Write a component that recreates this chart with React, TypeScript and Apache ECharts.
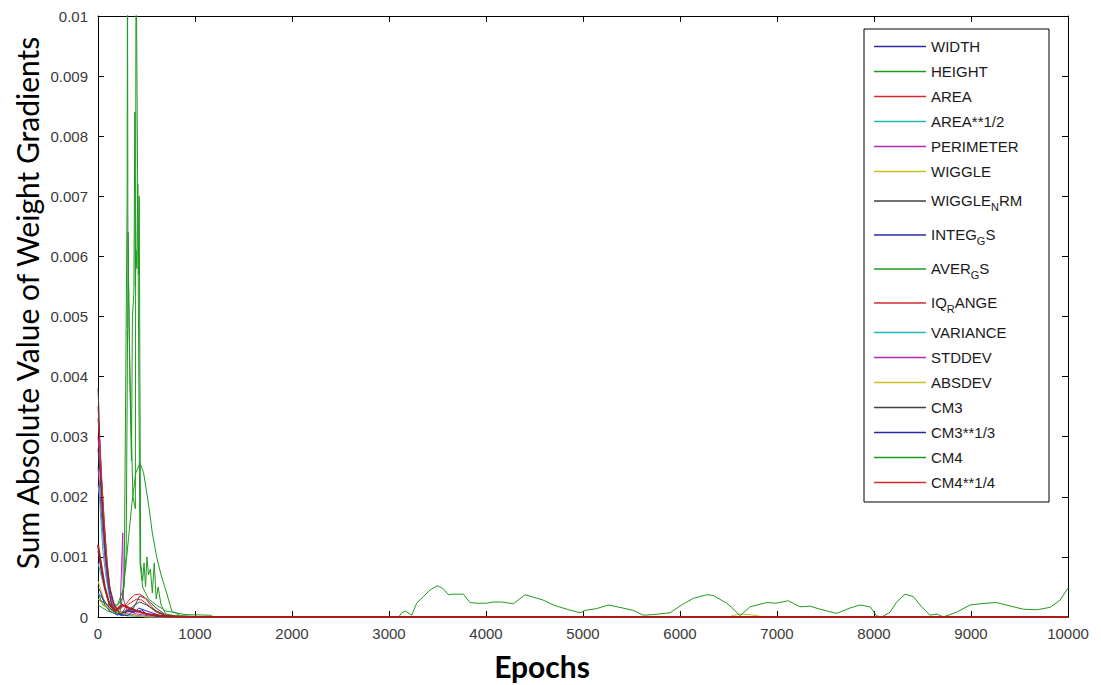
import React, { useEffect, useRef } from "react";
import * as echarts from "echarts";

// ---------- data: [epoch, sum |gradient|] ----------
const X_TICKS = { min: 0, max: 10000, step: 1000 };
const Y_TICKS = { min: 0, max: 0.01, step: 0.001 };

const WIDTH = [[0,0.0011],[20,0.0009],[50,0.0006],[100,0.0003],[150,0.00015],[200,0.00005],[250,0.00002],[300,0.0001],[350,0.00015],[400,0.00008],[450,0.00012],[500,0.00005],[600,0.00002],[800,0],[10000,0]];
const HEIGHT = [[0,0.0003],[100,0.0002],[200,0.0002],[270,0.0005],[300,0.0069],[304,0.0115],[308,0.0064],[330,0.004],[360,0.002],[385,0.0018],[392,0.0115],[433,0.0009],[460,0.0005],[520,0.0003],[600,0.0002],[700,0.0001],[900,0.00004],[1150,0.00003],[1200,0],[10000,0]];
const AREA = [[0,0.0035],[10,0.0032],[20,0.0028],[40,0.0022],[60,0.0017],[80,0.0012],[100,0.0008],[130,0.0004],[170,0.00015],[220,0.00005],[260,0.0001],[300,0.0002],[350,0.00025],[400,0.0003],[450,0.00028],[500,0.00022],[550,0.00015],[600,0.00008],[700,0.00002],[900,0],[10000,0]];
const AREA_SQRT = [[0,0.0022],[15,0.002],[30,0.0016],[50,0.0011],[80,0.0007],[110,0.0004],[150,0.00015],[200,0.00005],[300,0.00002],[500,0],[10000,0]];
const PERIMETER = [[0,0.003],[10,0.0028],[25,0.0024],[40,0.0019],[60,0.0014],[80,0.0009],[100,0.0006],[130,0.0003],[170,0.0001],[230,0.0002],[255,0.0014],[262,0.0003],[300,0.0001],[400,0.00005],[600,0],[10000,0]];
const WIGGLE = [[0,0.0006],[40,0.0004],[80,0.0002],[150,0.0001],[300,0.00005],[500,0],[10000,0]];
const WIGGLE_NRM = [[0,0.0038],[8,0.0035],[15,0.0031],[30,0.0025],[50,0.0018],[70,0.0012],[100,0.0006],[140,0.0002],[200,0.00005],[350,0.0001],[430,0.00035],[500,0.0003],[600,0.00015],[700,0.00003],[900,0],[10000,0]];
const INTEG_GS = [[0,0.0005],[30,0.0004],[70,0.0002],[120,0.0001],[200,0.00003],[300,0.00012],[380,0.00008],[420,0.00015],[500,0.0001],[650,0.00002],[800,0],[10000,0]];
const AVER_GS = [[0,0.0004],[50,0.0002],[150,0.0001],[250,0.0003],[290,0.001],[305,0.0048],[310,0.0064],[318,0.005],[330,0.0038],[345,0.0026],[355,0.005],[370,0.0054],[380,0.0084],[385,0.0055],[392,0.0061],[400,0.0058],[410,0.0072],[418,0.0057],[425,0.007],[432,0.004],[440,0.0009],[460,0.0006],[475,0.0009],[490,0.0005],[505,0.001],[520,0.0007],[540,0.0008],[560,0.0004],[580,0.0009],[600,0.0003],[620,0.0005],[650,0.0002],[700,0.00005],[800,0.00002],[1200,0],[10000,0]];
const IQ_RANGE = [[0,0.0033],[15,0.003],[35,0.0024],[60,0.0017],[90,0.001],[120,0.0005],[160,0.0002],[200,0.0001],[280,0.0002],[330,0.0003],[380,0.00037],[430,0.00038],[480,0.00033],[540,0.0002],[600,0.0001],[700,0.00003],[900,0],[10000,0]];
const VARIANCE = [[0,0.0009],[30,0.0007],[80,0.0004],[140,0.00015],[200,0.00005],[400,0.00002],[600,0],[10000,0]];
const STDDEV = [[0,0.0025],[15,0.0022],[40,0.0016],[70,0.001],[100,0.0006],[140,0.0003],[200,0.0001],[300,0.00005],[500,0],[10000,0]];
const ABSDEV = [[0,0.0003],[60,0.0002],[150,0.0001],[300,0.00004],[500,0],[6500,0],[6560,0.00003],[6620,0.00005],[6720,0.00004],[6800,0.00002],[6860,0],[10000,0]];
const CM3 = [[0,0.0028],[20,0.0024],[50,0.0016],[80,0.001],[120,0.0005],[170,0.0002],[230,0.00005],[300,0.0001],[380,0.0002],[430,0.00025],[500,0.0002],[600,0.0001],[700,0.00002],[900,0],[10000,0]];
const CM3_CBRT = [[0,0.0004],[50,0.0003],[120,0.00015],[200,0.00005],[300,0.00002],[350,0.00008],[420,0.0001],[480,0.00006],[600,0.00001],[800,0],[10000,0]];
const CM4 = [[0,0.0002],[100,0.0001],[200,0.00005],[230,0.0001],[258,0.0004],[290,0.0009],[320,0.0014],[350,0.0019],[390,0.0024],[433,0.00256],[470,0.0024],[519,0.0019],[560,0.0014],[605,0.001],[650,0.0007],[708,0.0004],[760,0.0001],[850,0.00002],[1000,0],[3100,0],[3131,0.00007],[3170,0.0001],[3234,0.00003],[3285,0.00023],[3354,0.00034],[3423,0.00045],[3498,0.00052],[3560,0.00047],[3612,0.00037],[3650,0.00038],[3766,0.00038],[3835,0.00024],[3900,0.00023],[4007,0.00023],[4076,0.00025],[4160,0.00025],[4282,0.00022],[4402,0.00037],[4490,0.00033],[4591,0.00028],[4694,0.0002],[4832,0.00013],[4969,0.00007],[5021,0.00011],[5141,0.00014],[5261,0.0002],[5381,0.00016],[5519,0.00011],[5622,0.00003],[5725,0.00004],[5897,0.00007],[6017,0.0002],[6137,0.00031],[6275,0.00037],[6340,0.00036],[6481,0.00023],[6540,0.00015],[6620,0.00002],[6722,0.00017],[6894,0.00024],[6990,0.00023],[7117,0.00027],[7237,0.00017],[7340,0.00018],[7443,0.00013],[7615,0.00006],[7753,0.00015],[7856,0.0002],[7960,0.00017],[8027,0.00002],[8080,0],[8165,0.00008],[8234,0.00025],[8320,0.00038],[8405,0.00034],[8491,0.00017],[8577,0.00003],[8650,0.00005],[8715,0],[8852,0.00008],[8990,0.0002],[9160,0.00023],[9265,0.00024],[9436,0.00017],[9540,0.00013],[9677,0.00012],[9814,0.00016],[9918,0.00028],[10000,0.00048]];
const CM4_QRT = [[0,0.0012],[30,0.0009],[70,0.0005],[120,0.0002],[180,0.0001],[250,0.0002],[320,0.00015],[400,0.0001],[500,0.00005],[700,0.00001],[1000,0],[10000,0]];

const SERIES_NAMES = ["WIDTH","HEIGHT","AREA","AREA**1/2","PERIMETER","WIGGLE","WIGGLE_NRM","INTEG_GS","AVER_GS","IQ_RANGE","VARIANCE","STDDEV","ABSDEV","CM3","CM3**1/3","CM4","CM4**1/4"];
const SERIES_DATA = [WIDTH,HEIGHT,AREA,AREA_SQRT,PERIMETER,WIGGLE,WIGGLE_NRM,INTEG_GS,AVER_GS,IQ_RANGE,VARIANCE,STDDEV,ABSDEV,CM3,CM3_CBRT,CM4,CM4_QRT];
const COLORS = ["#2a2aa8","#1f9a1f","#d42a2a","#20b8b8","#b02ab0","#c8c020","#404040"];

const LEGEND_RICH_LABEL: Record<string, string> = {
  WIGGLE_NRM: "{m|WIGGLE}{s|N}{m|RM}",
  INTEG_GS: "{m|INTEG}{s|G}{m|S}",
  AVER_GS: "{m|AVER}{s|G}{m|S}",
  IQ_RANGE: "{m|IQ}{s|R}{m|ANGE}",
};

export default function App() {
  const ref = useRef<HTMLDivElement>(null);
  useEffect(() => {
    if (!ref.current) return;
    const chart = echarts.init(ref.current, null, { renderer: "svg" });
    const axisFont = { fontFamily: "Liberation Sans", fontSize: 15, color: "#3a3a3a" };
    const baseX = {
      type: "value" as const, min: X_TICKS.min, max: X_TICKS.max, interval: X_TICKS.step,
      axisLine: { show: true, onZero: false, lineStyle: { color: "#000", width: 1 } },
      axisTick: { show: true, inside: true, length: 6, lineStyle: { color: "#000" } },
      splitLine: { show: false },
    };
    const baseY = {
      type: "value" as const, min: Y_TICKS.min, max: Y_TICKS.max, interval: Y_TICKS.step,
      axisLine: { show: true, onZero: false, lineStyle: { color: "#000", width: 1 } },
      axisTick: { show: true, inside: true, length: 6, lineStyle: { color: "#000" } },
      splitLine: { show: false },
    };
    const last = SERIES_NAMES.length - 1;
    chart.setOption({
      animation: false,
      backgroundColor: "#fff",
      grid: { left: 98, right: 33, top: 16, bottom: 68, containLabel: false },
      xAxis: [
        { ...baseX, position: "bottom", axisLabel: { ...axisFont, margin: 9, formatter: (v: number) => String(v) } },
        { ...baseX, position: "top", axisLabel: { show: false } },
      ],
      yAxis: [
        {
          ...baseY, position: "left",
          axisLabel: { ...axisFont, margin: 10, formatter: (v: number) => (v === 0 ? "0" : String(+v.toFixed(4))) },
        },
        { ...baseY, position: "right", axisLabel: { show: false } },
      ],
      legend: {
        orient: "vertical", left: 874, top: 39, padding: 0,
        icon: "rect", itemWidth: 52, itemHeight: 1.6, itemGap: 10,
        data: SERIES_NAMES,
        formatter: (name: string) => LEGEND_RICH_LABEL[name] ?? `{n|${name}}`,
        textStyle: {
          fontFamily: "Liberation Sans", fontSize: 15, color: "#1a1a1a",
          rich: {
            n: { fontFamily: "Liberation Sans", fontSize: 15, color: "#1a1a1a", lineHeight: 16, verticalAlign: "middle" },
            m: { fontFamily: "Liberation Sans", fontSize: 15, color: "#1a1a1a", lineHeight: 16, verticalAlign: "middle", padding: [0, 0, 2, 0] },
            s: { fontFamily: "Liberation Sans", fontSize: 11, color: "#1a1a1a", lineHeight: 11, verticalAlign: "middle", padding: [13, 0, 0, 0] },
          },
        },
      },
      graphic: [
        { type: "rect", z: 3, shape: { x: 864, y: 29, width: 185, height: 473 }, style: { fill: "#fff", stroke: "#000", lineWidth: 1 } },
        {
          type: "text", x: 27, y: 303, rotation: Math.PI / 2,
          style: { text: "Sum Absolute Value of Weight Gradients", fontFamily: "Lato", fontSize: 30, fill: "#000", align: "center", verticalAlign: "middle" },
        },
        {
          type: "text", x: 542, y: 666,
          style: { text: "Epochs", fontFamily: "Lato", fontWeight: "bold", fontSize: 30, fill: "#000", align: "center", verticalAlign: "middle" },
        },
      ],
      series: SERIES_NAMES.map((name, i) => ({
        name, type: "line", xAxisIndex: 0, yAxisIndex: 0,
        data: SERIES_DATA[i], symbol: "none", showSymbol: false, clip: i !== last,
        lineStyle: { color: i === last ? "#b01c1c" : COLORS[i % COLORS.length], width: i === last ? 2 : 1 },
        itemStyle: { color: i === last ? "#d42a2a" : COLORS[i % COLORS.length] },
        z: 2,
      })),
    });
    return () => chart.dispose();
  }, []);
  return <div ref={ref} style={{ position: "fixed", left: 0, top: 0, width: 1101, height: 685, background: "#fff" }} />;
}
